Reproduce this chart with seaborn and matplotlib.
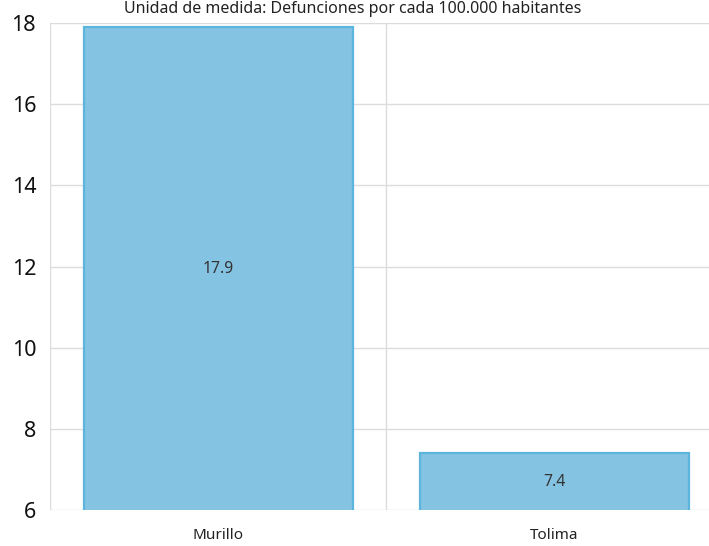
import pandas as pd
import matplotlib
matplotlib.use("Agg")
import matplotlib.pyplot as plt
import seaborn as sns

# data
categorias = ["Murillo", "Tolima"]
valores = [17.9, 7.4]
subtitulo = "Unidad de medida: Defunciones por cada 100.000 habitantes"

df = pd.DataFrame({"lugar": categorias, "tasa": valores})

sns.set_style("white")
plt.rcParams["font.family"] = ["Noto Sans", "DejaVu Sans"]

fig = plt.figure(figsize=(7.09, 5.46), dpi=100)
ax = fig.add_axes([50 / 709, 36 / 546, 659 / 709, 487 / 546])

sns.barplot(data=df, x="lugar", y="tasa", ax=ax, color="#85c3e2",
            edgecolor="#5cb5dc", linewidth=1.6, width=0.8, saturation=1)

ymin, ymax = 6, 18
ax.set_ylim(ymin, ymax)
ax.set_xlim(-0.5, 1.46)
ax.set_yticks(range(6, 19, 2))

# grid
for y in range(6, 19, 2):
    ax.axhline(y, color="#dcdcdc", lw=1, zorder=0)
for x in [-0.5, 0.5]:
    ax.axvline(x, color="#dcdcdc", lw=1, zorder=0)
ax.set_axisbelow(True)

for s in ax.spines.values():
    s.set_visible(False)

ax.set_xlabel("")
ax.set_ylabel("")
ax.tick_params(axis="y", labelsize=15.5, length=0, pad=10, labelcolor="#111111")
ax.tick_params(axis="x", labelsize=11, length=0, pad=13, labelcolor="#222222")

# value labels in middle of visible bar
for i, v in enumerate(valores):
    ax.text(i, (ymin + v) / 2, f"{v:.1f}", ha="center", va="center",
            fontsize=11.3, color="#333333")

fig.text(0.497, 1 - 1 / 546, subtitulo, ha="center", va="top",
         fontsize=11.5, color="#222222")

fig.savefig("out.png", dpi=100)
